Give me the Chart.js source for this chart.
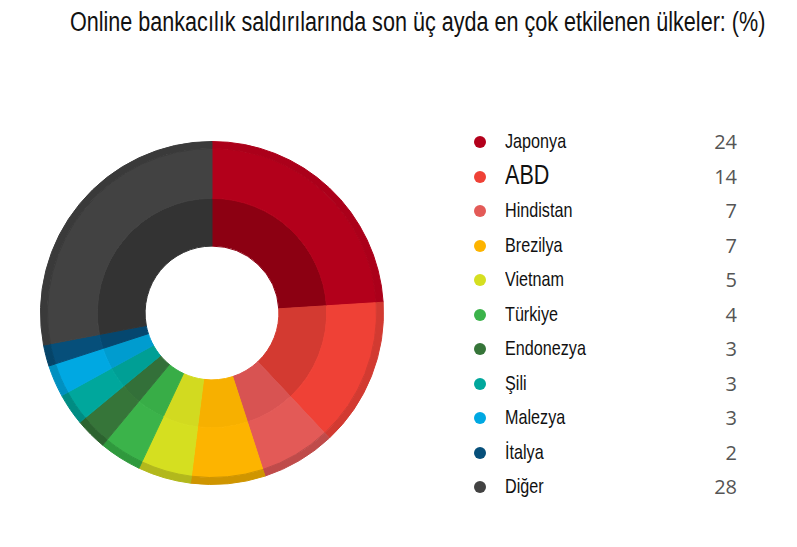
<!DOCTYPE html>
<html>
<head>
<meta charset="utf-8">
<script src="https://cdn.jsdelivr.net/npm/chart.js@4"></script>
<style>
  body { margin: 0; background: #fff; width: 797px; height: 547px; overflow: hidden; position: relative; }
  #title { position: absolute; left: 70px; top: 7px; white-space: nowrap; transform-origin: left top;
    font-family: "Liberation Sans", Arial, sans-serif; font-size: 27px; color: #111; }
  #chartBox { position: absolute; left: 40px; top: 141px; width: 344px; height: 344px; }
  #legend { position: absolute; left: 470px; top: 124px; width: 270px; }
  .row { position: relative; height: 34.5px; }
  .dot { position: absolute; left: 4px; top: 12px; width: 12px; height: 12px; border-radius: 50%; }
  .lab { position: absolute; left: 35px; top: 5px; white-space: nowrap; transform: scaleX(0.77); transform-origin: left top;
    font-family: "Liberation Sans", Arial, sans-serif; font-size: 21px; color: #111; }
  .big { font-size: 28px; top: 0px; }
  .val { position: absolute; right: 3px; top: 4px; font-family: "Open Sans", sans-serif; font-size: 20px; color: #555; }
</style>
</head>
<body>
<div id="title">Online bankacılık saldırılarında son üç ayda en çok etkilenen ülkeler: (%)</div>
<div id="chartBox"><canvas id="donut"></canvas></div>
<div id="legend"></div>
<script>
const countries = ['Japonya', 'ABD', 'Hindistan', 'Brezilya', 'Vietnam', 'Türkiye', 'Endonezya', 'Şili', 'Malezya', 'İtalya', 'Diğer'];
const shares = [24, 14, 7, 7, 5, 4, 3, 3, 3, 2, 28];

const baseColors = ['#b3001b', '#ef4136', '#e35a57', '#fdb400', '#d5df20', '#3bb34a', '#367539', '#00a79c', '#00a8e2', '#064f7a', '#424242'];
const innerColors = ['#8c0012', '#d33a31', '#d85352', '#f7b000', '#d2da20', '#38ad47', '#337039', '#009f95', '#009ccf', '#05476f', '#333333'];
const rimColors = ['#ab001a', '#d23a31', '#bf4b4a', '#cf9500', '#b2b81c', '#2f993d', '#2c632f', '#008c83', '#0090c0', '#054468', '#3a3a3a'];

window.onload = () => {
  const title = document.getElementById('title');
  title.style.transform = 'scaleX(' + (695 / title.offsetWidth) + ')';

  const legend = document.getElementById('legend');
  countries.forEach((c, i) => {
    const row = document.createElement('div');
    row.className = 'row';
    row.innerHTML = '<span class="dot" style="background:' + baseColors[i] + '"></span>' +
      '<span class="lab' + (c === 'ABD' ? ' big' : '') + '">' + c + '</span>' +
      '<span class="val">' + shares[i] + '</span>';
    legend.appendChild(row);
  });

  const ctx = document.getElementById('donut').getContext('2d');
  new Chart(ctx, {
    type: 'doughnut',
    data: {
      labels: countries,
      datasets: [
        { data: shares, backgroundColor: rimColors, borderColor: rimColors, borderWidth: 1, weight: 7 },
        { data: shares, backgroundColor: baseColors, borderColor: baseColors, borderWidth: 1, weight: 50 },
        { data: shares, backgroundColor: innerColors, borderColor: innerColors, borderWidth: 1, weight: 48 }
      ]
    },
    options: {
      responsive: true,
      maintainAspectRatio: false,
      animation: false,
      cutout: '39%',
      layout: { padding: 0 },
      events: [],
      plugins: {
        legend: { display: false },
        tooltip: { enabled: false }
      }
    }
  });
};
</script>
</body>
</html>
